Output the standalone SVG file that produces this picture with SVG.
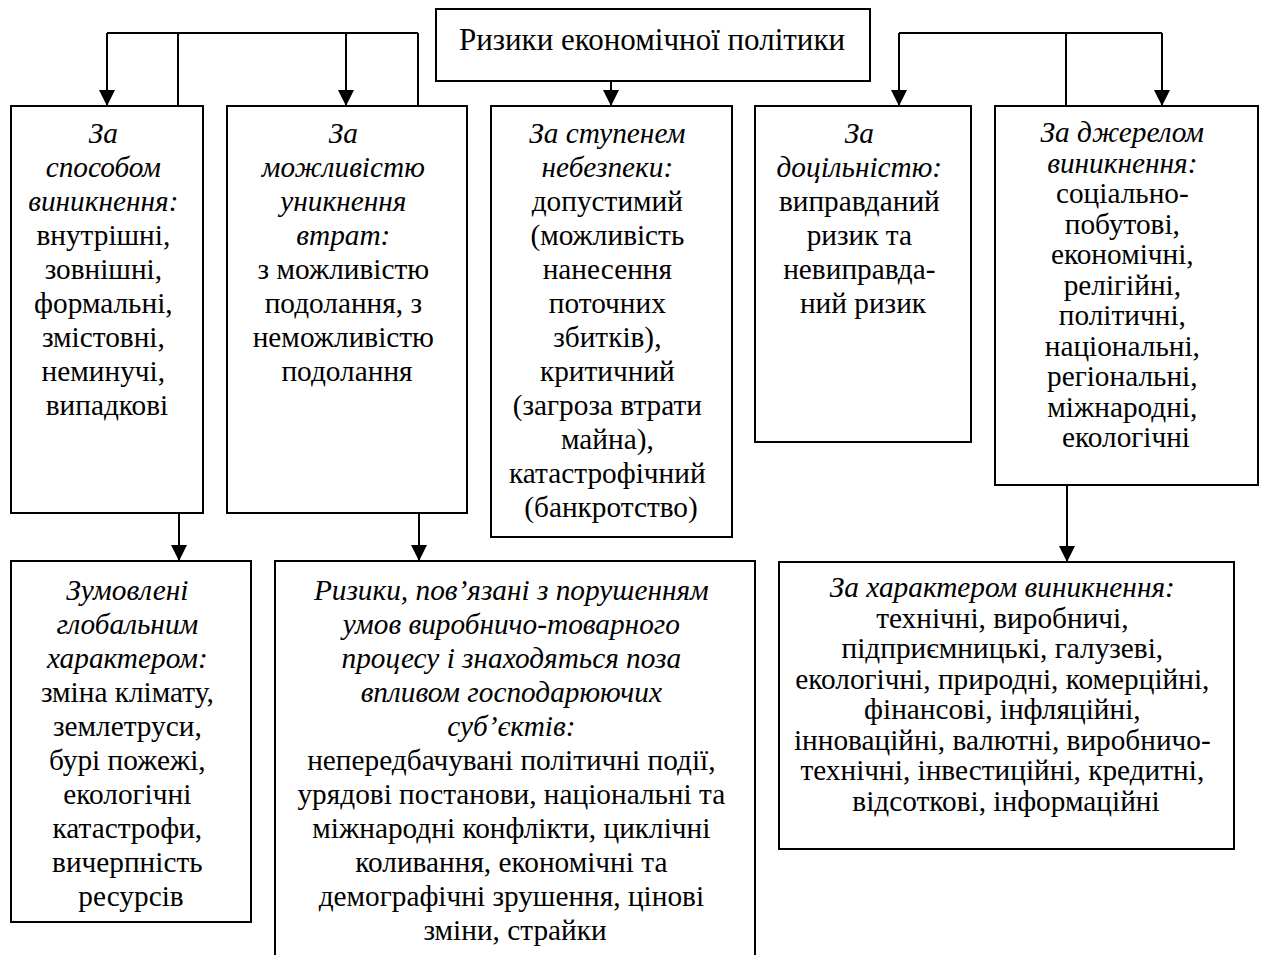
<svg xmlns="http://www.w3.org/2000/svg" width="1264" height="955" viewBox="0 0 1264 955">
<style>
.box{fill:#fff;stroke:#000;stroke-width:2}
.ln{fill:none;stroke:#000;stroke-width:2}
text{font-family:"Liberation Serif","Times New Roman",serif;fill:#000;text-anchor:middle}
.t28{font-size:29.3px}
.t26{font-size:29.3px}
.tt{font-size:31px}
.i{font-style:italic}
</style>
<defs>
<marker id="ah" viewBox="0 0 16 16" refX="16" refY="8" markerWidth="16" markerHeight="16" markerUnits="userSpaceOnUse" orient="auto">
<path d="M0,0 L16,8 L0,16 Z" fill="#000"/>
</marker>
</defs>
<rect width="1264" height="955" fill="#fff"/>

<g id="connectors">
<line class="ln" x1="107" y1="33" x2="418" y2="33"/>
<line class="ln" x1="107" y1="33" x2="107" y2="106" marker-end="url(#ah)"/>
<line class="ln" x1="178" y1="33" x2="178" y2="106"/>
<line class="ln" x1="346" y1="33" x2="346" y2="106" marker-end="url(#ah)"/>
<line class="ln" x1="418" y1="33" x2="418" y2="106"/>
<line class="ln" x1="611" y1="81" x2="611" y2="106" marker-end="url(#ah)"/>
<line class="ln" x1="899" y1="33" x2="1162" y2="33"/>
<line class="ln" x1="899" y1="33" x2="899" y2="106" marker-end="url(#ah)"/>
<line class="ln" x1="1066" y1="33" x2="1066" y2="106"/>
<line class="ln" x1="1162" y1="33" x2="1162" y2="106" marker-end="url(#ah)"/>
<line class="ln" x1="179" y1="513" x2="179" y2="561" marker-end="url(#ah)"/>
<line class="ln" x1="419" y1="513" x2="419" y2="561" marker-end="url(#ah)"/>
<line class="ln" x1="1067" y1="485" x2="1067" y2="562" marker-end="url(#ah)"/>
</g>

<g id="title">
<rect class="box" x="436" y="9" width="434" height="72"/>
<text class="tt" x="652" y="50">Ризики економічної політики</text>
</g>

<g id="box1">
<rect class="box" x="11" y="106" width="192" height="407"/>
<text class="t28" x="107">
<tspan class="i" x="107" y="143">За</tspan>
<tspan class="i" x="107" y="177">способом</tspan>
<tspan class="i" x="107" y="211">виникнення:</tspan>
<tspan x="107" y="245">внутрішні,</tspan>
<tspan x="107" y="279">зовнішні,</tspan>
<tspan x="107" y="313">формальні,</tspan>
<tspan x="107" y="347">змістовні,</tspan>
<tspan x="107" y="381">неминучі,</tspan>
<tspan x="107" y="415">випадкові</tspan>
</text>
</g>

<g id="box2">
<rect class="box" x="227" y="106" width="240" height="407"/>
<text class="t28">
<tspan class="i" x="347" y="143">За</tspan>
<tspan class="i" x="347" y="177">можливістю</tspan>
<tspan class="i" x="347" y="211">уникнення</tspan>
<tspan class="i" x="347" y="245">втрат:</tspan>
<tspan x="347" y="279">з можливістю</tspan>
<tspan x="347" y="313">подолання, з</tspan>
<tspan x="347" y="347">неможливістю</tspan>
<tspan x="347" y="381">подолання</tspan>
</text>
</g>

<g id="box3">
<rect class="box" x="491" y="106" width="241" height="431"/>
<text class="t28">
<tspan class="i" x="611" y="143">За ступенем</tspan>
<tspan class="i" x="611" y="177">небезпеки:</tspan>
<tspan x="611" y="211">допустимий</tspan>
<tspan x="611" y="245">(можливість</tspan>
<tspan x="611" y="279">нанесення</tspan>
<tspan x="611" y="313">поточних</tspan>
<tspan x="611" y="347">збитків),</tspan>
<tspan x="611" y="381">критичний</tspan>
<tspan x="611" y="415">(загроза втрати</tspan>
<tspan x="611" y="449">майна),</tspan>
<tspan x="611" y="483">катастрофічний</tspan>
<tspan x="611" y="517">(банкротство)</tspan>
</text>
</g>

<g id="box4">
<rect class="box" x="755" y="106" width="216" height="336"/>
<text class="t28">
<tspan class="i" x="863" y="143">За</tspan>
<tspan class="i" x="863" y="177">доцільністю:</tspan>
<tspan x="863" y="211">виправданий</tspan>
<tspan x="863" y="245">ризик та</tspan>
<tspan x="863" y="279">невиправда-</tspan>
<tspan x="863" y="313">ний ризик</tspan>
</text>
</g>

<g id="box5">
<rect class="box" x="995" y="106" width="263" height="379"/>
<text class="t26">
<tspan class="i" x="1126" y="142">За джерелом</tspan>
<tspan class="i" x="1126" y="172.5">виникнення:</tspan>
<tspan x="1126" y="203">соціально-</tspan>
<tspan x="1126" y="233.5">побутові,</tspan>
<tspan x="1126" y="264">економічні,</tspan>
<tspan x="1126" y="294.5">релігійні,</tspan>
<tspan x="1126" y="325">політичні,</tspan>
<tspan x="1126" y="355.5">національні,</tspan>
<tspan x="1126" y="386">регіональні,</tspan>
<tspan x="1126" y="416.5">міжнародні,</tspan>
<tspan x="1126" y="447">екологічні</tspan>
</text>
</g>

<g id="box6">
<rect class="box" x="11" y="561" width="240" height="361"/>
<text class="t28">
<tspan class="i" x="131" y="600">Зумовлені</tspan>
<tspan class="i" x="131" y="634">глобальним</tspan>
<tspan class="i" x="131" y="668">характером:</tspan>
<tspan x="131" y="702">зміна клімату,</tspan>
<tspan x="131" y="736">землетруси,</tspan>
<tspan x="131" y="770">бурі пожежі,</tspan>
<tspan x="131" y="804">екологічні</tspan>
<tspan x="131" y="838">катастрофи,</tspan>
<tspan x="131" y="872">вичерпність</tspan>
<tspan x="131" y="906">ресурсів</tspan>
</text>
</g>

<g id="box7">
<path class="ln" d="M275,957 V561 H755 V957"/>
<text class="t28">
<tspan class="i" x="515" y="600">Ризики, пов’язані з порушенням</tspan>
<tspan class="i" x="515" y="634">умов виробничо-товарного</tspan>
<tspan class="i" x="515" y="668">процесу і знаходяться поза</tspan>
<tspan class="i" x="515" y="702">впливом господарюючих</tspan>
<tspan class="i" x="515" y="736">суб’єктів:</tspan>
<tspan x="515" y="770">непередбачувані політичні події,</tspan>
<tspan x="515" y="804">урядові постанови, національні та</tspan>
<tspan x="515" y="838">міжнародні конфлікти, циклічні</tspan>
<tspan x="515" y="872">коливання, економічні та</tspan>
<tspan x="515" y="906">демографічні зрушення, цінові</tspan>
<tspan x="515" y="940">зміни, страйки</tspan>
</text>
</g>

<g id="box8">
<rect class="box" x="779" y="562" width="455" height="287"/>
<text class="t26">
<tspan class="i" x="1006" y="597">За характером виникнення:</tspan>
<tspan x="1006" y="627.5">технічні, виробничі,</tspan>
<tspan x="1006" y="658">підприємницькі, галузеві,</tspan>
<tspan x="1006" y="688.5">екологічні, природні, комерційні,</tspan>
<tspan x="1006" y="719">фінансові, інфляційні,</tspan>
<tspan x="1006" y="749.5">інноваційні, валютні, виробничо-</tspan>
<tspan x="1006" y="780">технічні, інвестиційні, кредитні,</tspan>
<tspan x="1006" y="810.5">відсоткові, інформаційні</tspan>
</text>
</g>
</svg>
